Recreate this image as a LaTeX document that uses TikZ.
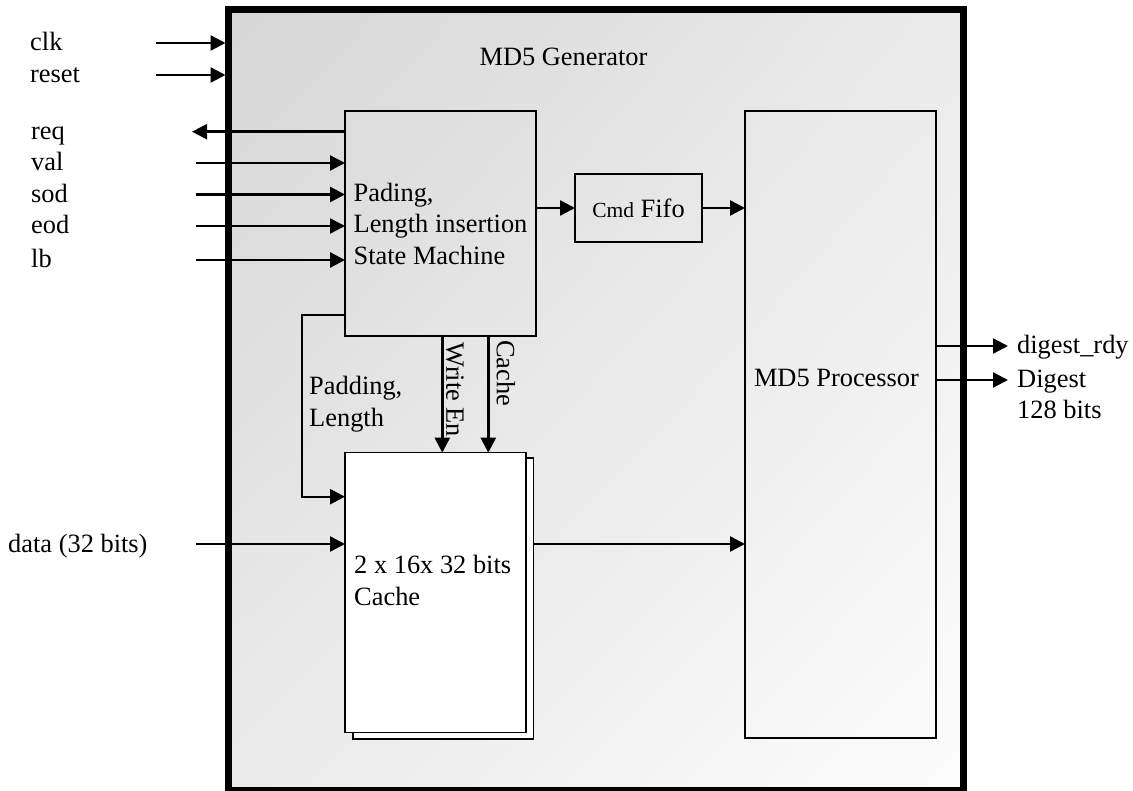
\documentclass[tikz,border=0pt]{standalone}
\usepackage{fontspec}
\setmainfont{Liberation Serif}
\usetikzlibrary{arrows.meta,positioning,shadings}

\tikzset{
  blk/.style={draw,line width=1.6pt,anchor=north west,inner sep=0pt,outer sep=0pt},
  sig/.style={line width=2.4pt,-{Triangle[length=15pt,width=15pt]}},
  lbl/.style={anchor=base west,inner sep=0pt},
  txt/.style={anchor=north west,inner sep=0pt,align=left},
}

\begin{document}
\begin{tikzpicture}[x=1pt,y=-1pt,font=\fontsize{26.4}{31.5}\selectfont]
\useasboundingbox (0,0) rectangle (1133,791);
% outer block
\node[draw,line width=7pt,anchor=north west,inner sep=0pt,outer sep=0pt,
  minimum width=734.5pt,minimum height=781pt,
  upper left=black!16,upper right=black!8,lower left=black!8,lower right=black!1] (gen) at (228.5,9.5) {};
\node (title) at (563.5,57) {MD5 Generator};
% blocks
\node[blk,minimum width=191pt,minimum height=225pt,align=left] (sm) at (345,111)
  {Pading,\\Length insertion\\State Machine};
\node[blk,minimum width=127pt,minimum height=68pt] (fifo) at (575,174)
  {{\fontsize{21.5}{24}\selectfont Cmd} Fifo};
\node[blk,minimum width=191pt,minimum height=627pt] (proc) at (745,111) {};
\node (proclbl) at (836.5,378) {MD5 Processor};
\node[blk,fill=white,minimum width=180.6pt,minimum height=281pt] (cacheb) at (352.7,458) {};
\node[blk,fill=white,minimum width=180.7pt,minimum height=279.6pt] (cache) at (345,452.7) {};
\node[txt] (cachelbl) at (354,555) {2 x 16x 32 bits\\Cache};
% clock and reset
\foreach \n/\y in {clk/43,reset/75}{
  \node[lbl] (\n) at (30,\y+8) {\n};
  \coordinate (\n-in) at (156,\y);
  \draw[sig,shorten >=3pt] (\n-in) -- (\n-in -| gen.west);
}
% handshake
\node[lbl] (req) at (31,139.7) {req};
\coordinate (req-out) at (192,131.7);
\draw[sig] (req-out -| sm.west) -- (req-out);
\foreach \n/\y in {val/163,sod/194.5,eod/226,lb/260}{
  \node[lbl] (\n) at (31,\y+8) {\n};
  \coordinate (\n-in) at (196,\y);
  \draw[sig] (\n-in) -- (\n-in -| sm.west);
}
% fifo path
\draw[sig] (fifo.west -| sm.east) -- (fifo.west);
\draw[sig] (fifo.east) -- (fifo.east -| proc.west);
% cache inputs
\coordinate (padturn) at (301.7,496.7);
\draw[sig] ([yshift=21pt]sm.south west) -| (padturn) -- (padturn -| cache.west);
\node[txt] (padlbl) at (309,376) {Padding,\\Length};
\coordinate (we) at (442.3,0);
\coordinate (ch) at (488.3,0);
\draw[sig] (we |- sm.south) -- (we |- cache.north);
\draw[sig] (ch |- sm.south) -- (ch |- cache.north);
\node[rotate=-90,anchor=west,inner sep=0pt] (welbl) at (455,342) {Write En};
\node[rotate=-90,anchor=west,inner sep=0pt] (chlbl) at (506,340) {Cache};
\node[lbl] (data) at (8,552) {data (32 bits)};
\coordinate (data-in) at (196,544);
\draw[sig] (data-in) -- (data-in -| cache.west);
\draw[sig] (data-in -| cacheb.east) -- (data-in -| proc.west);
% outputs
\coordinate (rdy-out) at (1008,346);
\coordinate (dig-out) at (1008,380);
\draw[sig] (rdy-out -| proc.east) -- (rdy-out);
\draw[sig] (dig-out -| proc.east) -- (dig-out);
\node[lbl] (rdy) at (1017,354) {digest\_rdy};
\node[txt] (dig) at (1017,369.5) {Digest\\128 bits};
\end{tikzpicture}
\end{document}
